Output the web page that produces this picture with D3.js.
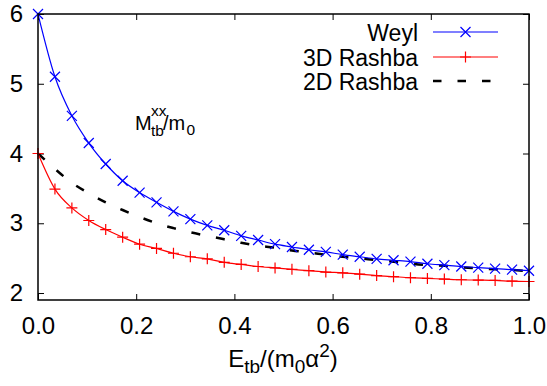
<!DOCTYPE html>
<html>
<head>
<meta charset="utf-8">
<script src="https://cdn.jsdelivr.net/npm/d3@7"></script>
<style>
  body { margin: 0; background: #fff; }
  svg text { font-family: "Liberation Sans", Arial, Helvetica, sans-serif; fill: #000; }
</style>
</head>
<body>
<svg id="chart"></svg>
<script>
// ---------------------- data ---------------------------
const xVals = [0, 0.0345, 0.069, 0.1034, 0.1379, 0.1724, 0.2069, 0.2414, 0.2759, 0.3103,
  0.3448, 0.3793, 0.4138, 0.4483, 0.4828, 0.5172, 0.5517, 0.5862, 0.6207, 0.6552,
  0.6897, 0.7241, 0.7586, 0.7931, 0.8276, 0.8621, 0.8966, 0.931, 0.9655, 1];
const weyl = [6.00, 5.10, 4.54, 4.15, 3.85, 3.61, 3.44, 3.30, 3.17, 3.06,
  2.97, 2.90, 2.82, 2.76, 2.70, 2.66, 2.62, 2.59, 2.55, 2.52,
  2.49, 2.47, 2.45, 2.42, 2.40, 2.38, 2.365, 2.35, 2.335, 2.32];
const rashba3D = [4.00, 3.49, 3.22, 3.04, 2.91, 2.80, 2.70, 2.64, 2.57, 2.52,
  2.49, 2.44, 2.41, 2.38, 2.36, 2.34, 2.32, 2.30, 2.29, 2.27,
  2.25, 2.235, 2.22, 2.21, 2.20, 2.19, 2.185, 2.18, 2.17, 2.165];
const rashba2D = [4.00, 3.78, 3.58, 3.43, 3.30, 3.19, 3.09, 3.00, 2.93, 2.87,
  2.82, 2.77, 2.72, 2.68, 2.65, 2.61, 2.58, 2.55, 2.52, 2.50,
  2.47, 2.45, 2.42, 2.40, 2.39, 2.37, 2.355, 2.34, 2.33, 2.315];
const xTicks = [0, 0.2, 0.4, 0.6, 0.8, 1.0];
const yTicks = [2, 3, 4, 5, 6];
const seriesNames = ["Weyl", "3D Rashba", "2D Rashba"];

// ---------------------- setup ---------------------------
const width = 547;
const height = 386;
const plotLeft = 38, plotTop = 14, plotRight = 529, plotBottom = 300;
const fontSize = 24;
const subSize = 19;

const svg = d3.select("#chart")
  .attr("width", width)
  .attr("height", height);

const x = d3.scaleLinear().domain([0, 1]).range([plotLeft, plotRight]);
const y = d3.scaleLinear().domain([1.9, 6]).range([plotBottom, plotTop]);

// axes with inward ticks (gnuplot style, mirrored)
const xAxis = svg.append("g")
  .attr("transform", "translate(0," + plotBottom + ")")
  .call(d3.axisBottom(x).tickValues(xTicks).tickFormat(d3.format(".1f"))
    .tickSizeInner(-6).tickSizeOuter(0).tickPadding(17));
const xAxisTop = svg.append("g")
  .attr("transform", "translate(0," + plotTop + ")")
  .call(d3.axisTop(x).tickValues(xTicks).tickFormat("")
    .tickSizeInner(-6).tickSizeOuter(0));
const yAxis = svg.append("g")
  .attr("transform", "translate(" + plotLeft + ",0)")
  .call(d3.axisLeft(y).tickValues(yTicks).tickFormat(d3.format("d"))
    .tickSizeInner(-6).tickSizeOuter(0).tickPadding(15));
const yAxisRight = svg.append("g")
  .attr("transform", "translate(" + plotRight + ",0)")
  .call(d3.axisRight(y).tickValues(yTicks).tickFormat("")
    .tickSizeInner(-6).tickSizeOuter(0));

[xAxis, xAxisTop, yAxis, yAxisRight].forEach(g => {
  g.select(".domain").remove();
  g.selectAll(".tick line").attr("stroke", "#000").attr("stroke-width", 1);
  g.selectAll("text").attr("font-size", fontSize)
    .style("font-family", "'Liberation Sans', Arial, sans-serif");
});

// ---------------------- curves ---------------------------
const line = d3.line()
  .x((d, i) => x(xVals[i]))
  .y(d => y(d))
  .curve(d3.curveMonotoneX);

const crossPath = "M-5,-5L5,5M-5,5L5,-5";
const plusPath = "M-5.5,0H5.5M0,-5.5V5.5";

svg.append("path")
  .attr("d", line(rashba2D))
  .attr("fill", "none")
  .attr("stroke", "#000")
  .attr("stroke-width", 2.5)
  .attr("stroke-dasharray", "9,16");

svg.append("path")
  .attr("d", line(rashba3D))
  .attr("fill", "none")
  .attr("stroke", "#ff0000")
  .attr("stroke-width", 1.2);

svg.append("g").selectAll("path")
  .data(rashba3D)
  .join("path")
  .attr("transform", (d, i) => "translate(" + x(xVals[i]) + "," + y(d) + ")")
  .attr("d", plusPath)
  .attr("stroke", "#ff0000")
  .attr("stroke-width", 1.2);

svg.append("path")
  .attr("d", line(weyl))
  .attr("fill", "none")
  .attr("stroke", "#0000ff")
  .attr("stroke-width", 1.2);

svg.append("g").selectAll("path")
  .data(weyl)
  .join("path")
  .attr("transform", (d, i) => "translate(" + x(xVals[i]) + "," + y(d) + ")")
  .attr("d", crossPath)
  .attr("stroke", "#0000ff")
  .attr("stroke-width", 1.2);

// frame
svg.append("rect")
  .attr("x", plotLeft).attr("y", plotTop)
  .attr("width", plotRight - plotLeft).attr("height", plotBottom - plotTop)
  .attr("fill", "none")
  .attr("stroke", "#000")
  .attr("stroke-width", 1.5);

// ---------------------- legend ---------------------------
const legend = svg.append("g");
const legendBase = [41, 65.5, 90];
const legendY = [32, 57, 81];
seriesNames.forEach((name, i) => {
  legend.append("text")
    .attr("x", 418).attr("y", legendBase[i])
    .attr("text-anchor", "end")
    .attr("font-size", 23)
    .text(name);
});
legend.append("line")
  .attr("x1", 433).attr("x2", 498).attr("y1", legendY[0]).attr("y2", legendY[0])
  .attr("stroke", "#0000ff").attr("stroke-width", 1.2);
legend.append("path")
  .attr("transform", "translate(465.5," + legendY[0] + ")")
  .attr("d", crossPath).attr("stroke", "#0000ff").attr("stroke-width", 1.2);
legend.append("line")
  .attr("x1", 433).attr("x2", 498).attr("y1", legendY[1]).attr("y2", legendY[1])
  .attr("stroke", "#ff0000").attr("stroke-width", 1.2);
legend.append("path")
  .attr("transform", "translate(465.5," + legendY[1] + ")")
  .attr("d", plusPath).attr("stroke", "#ff0000").attr("stroke-width", 1.2);
legend.append("line")
  .attr("x1", 433).attr("x2", 499).attr("y1", legendY[2]).attr("y2", legendY[2])
  .attr("stroke", "#000").attr("stroke-width", 2.5)
  .attr("stroke-dasharray", "8.5,16");

// ---------------------- labels ---------------------------
// annotation M^xx_tb / m_0
const ann = svg.append("text").attr("font-size", 20);
ann.append("tspan").attr("x", 135).attr("y", 129.5).text("M");
ann.append("tspan").attr("x", 151).attr("y", 116).attr("font-size", 15.5).text("xx");
ann.append("tspan").attr("x", 151).attr("y", 135.5).attr("font-size", 15.5).text("tb");
ann.append("tspan").attr("x", 163).attr("y", 129.5).text("/m");
ann.append("tspan").attr("x", 186.5).attr("y", 135).attr("font-size", 15.5).text("0");

// x axis title E_tb/(m_0 α^2)
const xt = svg.append("text")
  .attr("x", 283).attr("y", 367)
  .attr("text-anchor", "middle")
  .attr("font-size", fontSize);
xt.append("tspan").text("E");
xt.append("tspan").attr("font-size", subSize).attr("dy", 6).text("tb");
xt.append("tspan").attr("dy", -6).text("/(m");
xt.append("tspan").attr("font-size", subSize).attr("dy", 6).text("0");
xt.append("tspan").attr("dy", -6).text("α");
xt.append("tspan").attr("font-size", subSize).attr("dy", -10).text("2");
xt.append("tspan").attr("dy", 10).text(")");
</script>
</body>
</html>
